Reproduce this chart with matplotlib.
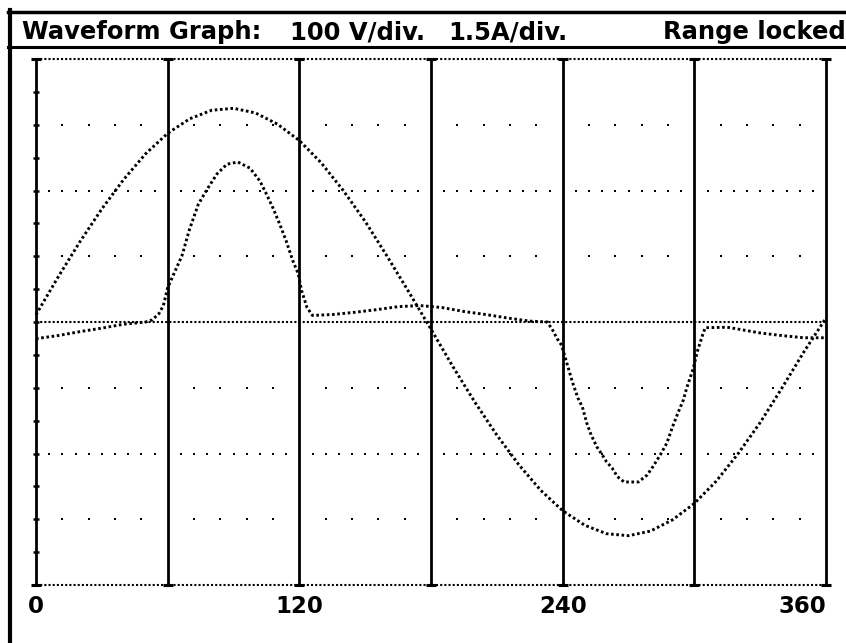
import numpy as np
from matplotlib import pyplot as plt
from matplotlib.lines import Line2D

# waveform readings: angle in degrees, voltage in V, current in A
voltDeg = list(range(0, 361, 10))
voltVal = [11, 68, 122, 172, 217, 256, 287, 309, 322, 325,
           318, 301, 276, 242, 200, 153, 100, 45, -11, -68,
           -122, -172, -217, -256, -287, -309, -322, -325, -318, -301,
           -276, -242, -200, -153, -100, -45, 6]

ampDeg = [0, 10, 20, 30, 40, 50, 53, 56, 58, 60,
          63, 66.5, 70, 74, 78, 82.5, 87, 92, 97.5, 102,
          105, 108, 111, 114, 117, 119.5, 121, 123.5, 126, 135,
          145, 155, 165, 175, 185, 195, 205, 215, 225, 233,
          235.5, 237.5, 239.5, 244.5, 247, 249, 251, 253, 255.6, 258,
          260, 262.5, 265, 268, 274.5, 278.5, 281, 284.5, 287.5, 290,
          292.5, 295, 296.5, 299.5, 301.5, 304, 305, 315, 322, 330,
          340, 350, 360]
ampVal = [-0.38, -0.31, -0.22, -0.14, -0.05, 0.0, 0.05, 0.19, 0.37, 0.78,
          1.12, 1.51, 2.12, 2.69, 3.03, 3.38, 3.60, 3.65, 3.51, 3.22,
          2.92, 2.60, 2.24, 1.85, 1.40, 1.10, 0.72, 0.33, 0.15, 0.17,
          0.22, 0.28, 0.35, 0.375, 0.33, 0.24, 0.17, 0.09, 0.02, 0.0,
          -0.19, -0.38, -0.53, -1.38, -1.74, -1.94, -2.31, -2.58, -2.85, -3.03,
          -3.19, -3.33, -3.53, -3.65, -3.65, -3.49, -3.31, -3.03, -2.76, -2.40,
          -2.08, -1.78, -1.51, -1.06, -0.65, -0.26, -0.13, -0.12, -0.18, -0.25,
          -0.31, -0.36, -0.36]

voltPerDiv = 100
ampPerDiv = 1.5
xLabels = ["0", "120", "240", "360"]
titleParts = ["Waveform Graph:", "100 V/div.", "1.5A/div.", "Range locked"]

fig = plt.figure(figsize=(8.46, 6.43), dpi=100)
fig.set_facecolor("white")
ax = fig.add_axes([36 / 846, 58 / 643, 790 / 846, 526 / 643])
ax.set_xlim(0, 360)
ax.set_ylim(-4 * voltPerDiv, 4 * voltPerDiv)
ax.axis("off")

# screen frame and title bar
fig.add_artist(Line2D([8 / 846, 1], [1 - 11.5 / 643] * 2, transform=fig.transFigure, color="black", lw=2.5))
fig.add_artist(Line2D([10 / 846] * 2, [0, 1 - 10 / 643], transform=fig.transFigure, color="black", lw=3))
fig.add_artist(Line2D([8 / 846, 1], [1 - 47 / 643] * 2, transform=fig.transFigure, color="black", lw=2.2))

titleX = [22, 290, 448, 846]
for txt, px in zip(titleParts, titleX):
    fig.text(px / 846, 1 - 39 / 643, txt, weight="bold", fontsize=17.5, va="baseline",
             ha="right" if px == 846 else "left")

# vertical division lines
for deg in range(0, 361, 60):
    ax.plot([deg, deg], [-400, 400], color="black", lw=2.0, clip_on=False, solid_capstyle="butt")
    ax.plot([deg, deg], [-400, 400], color="black", lw=0, marker="_", ms=7, mew=2.2, clip_on=False)

# dense dotted lines: top, centre, bottom
for yy in [-400, 0, 400]:
    ax.plot([0, 360], [yy, yy], color="black", lw=1.5, linestyle=(0, (1, 1)), clip_on=False)

# sparse grid dots
for yy in [-300, -200, -100, 100, 200, 300]:
    step = 6 if abs(yy) == 200 else 12
    xs = [d for d in np.arange(0, 361, step) if d % 60 != 0]
    ax.scatter(xs, [yy] * len(xs), marker="s", s=3.8, color="black", linewidths=0, clip_on=False)

# small ticks on the left edge
ticksY = [v for v in range(-350, 351, 50)]
ax.plot([0] * len(ticksY), ticksY, lw=0, marker="_", ms=5, mew=1.8, color="black", clip_on=False)

# waveforms
ax.plot(voltDeg, voltVal, color="black", lw=2.1, linestyle=(0, (0.9, 0.9)), clip_on=False)
ampScaled = [a * voltPerDiv / ampPerDiv for a in ampVal]
ax.plot(ampDeg, ampScaled, color="black", lw=2.1, linestyle=(0, (0.9, 0.9)), clip_on=False)

for i, lbl in enumerate(xLabels):
    ha = "right" if i == len(xLabels) - 1 else "center"
    ax.annotate(lbl, xy=(i * 120, -400), xytext=(0, -28), textcoords="offset pixels",
                ha=ha, va="baseline", fontsize=16.5, weight="bold")

fig.savefig("out.png", dpi=100)
